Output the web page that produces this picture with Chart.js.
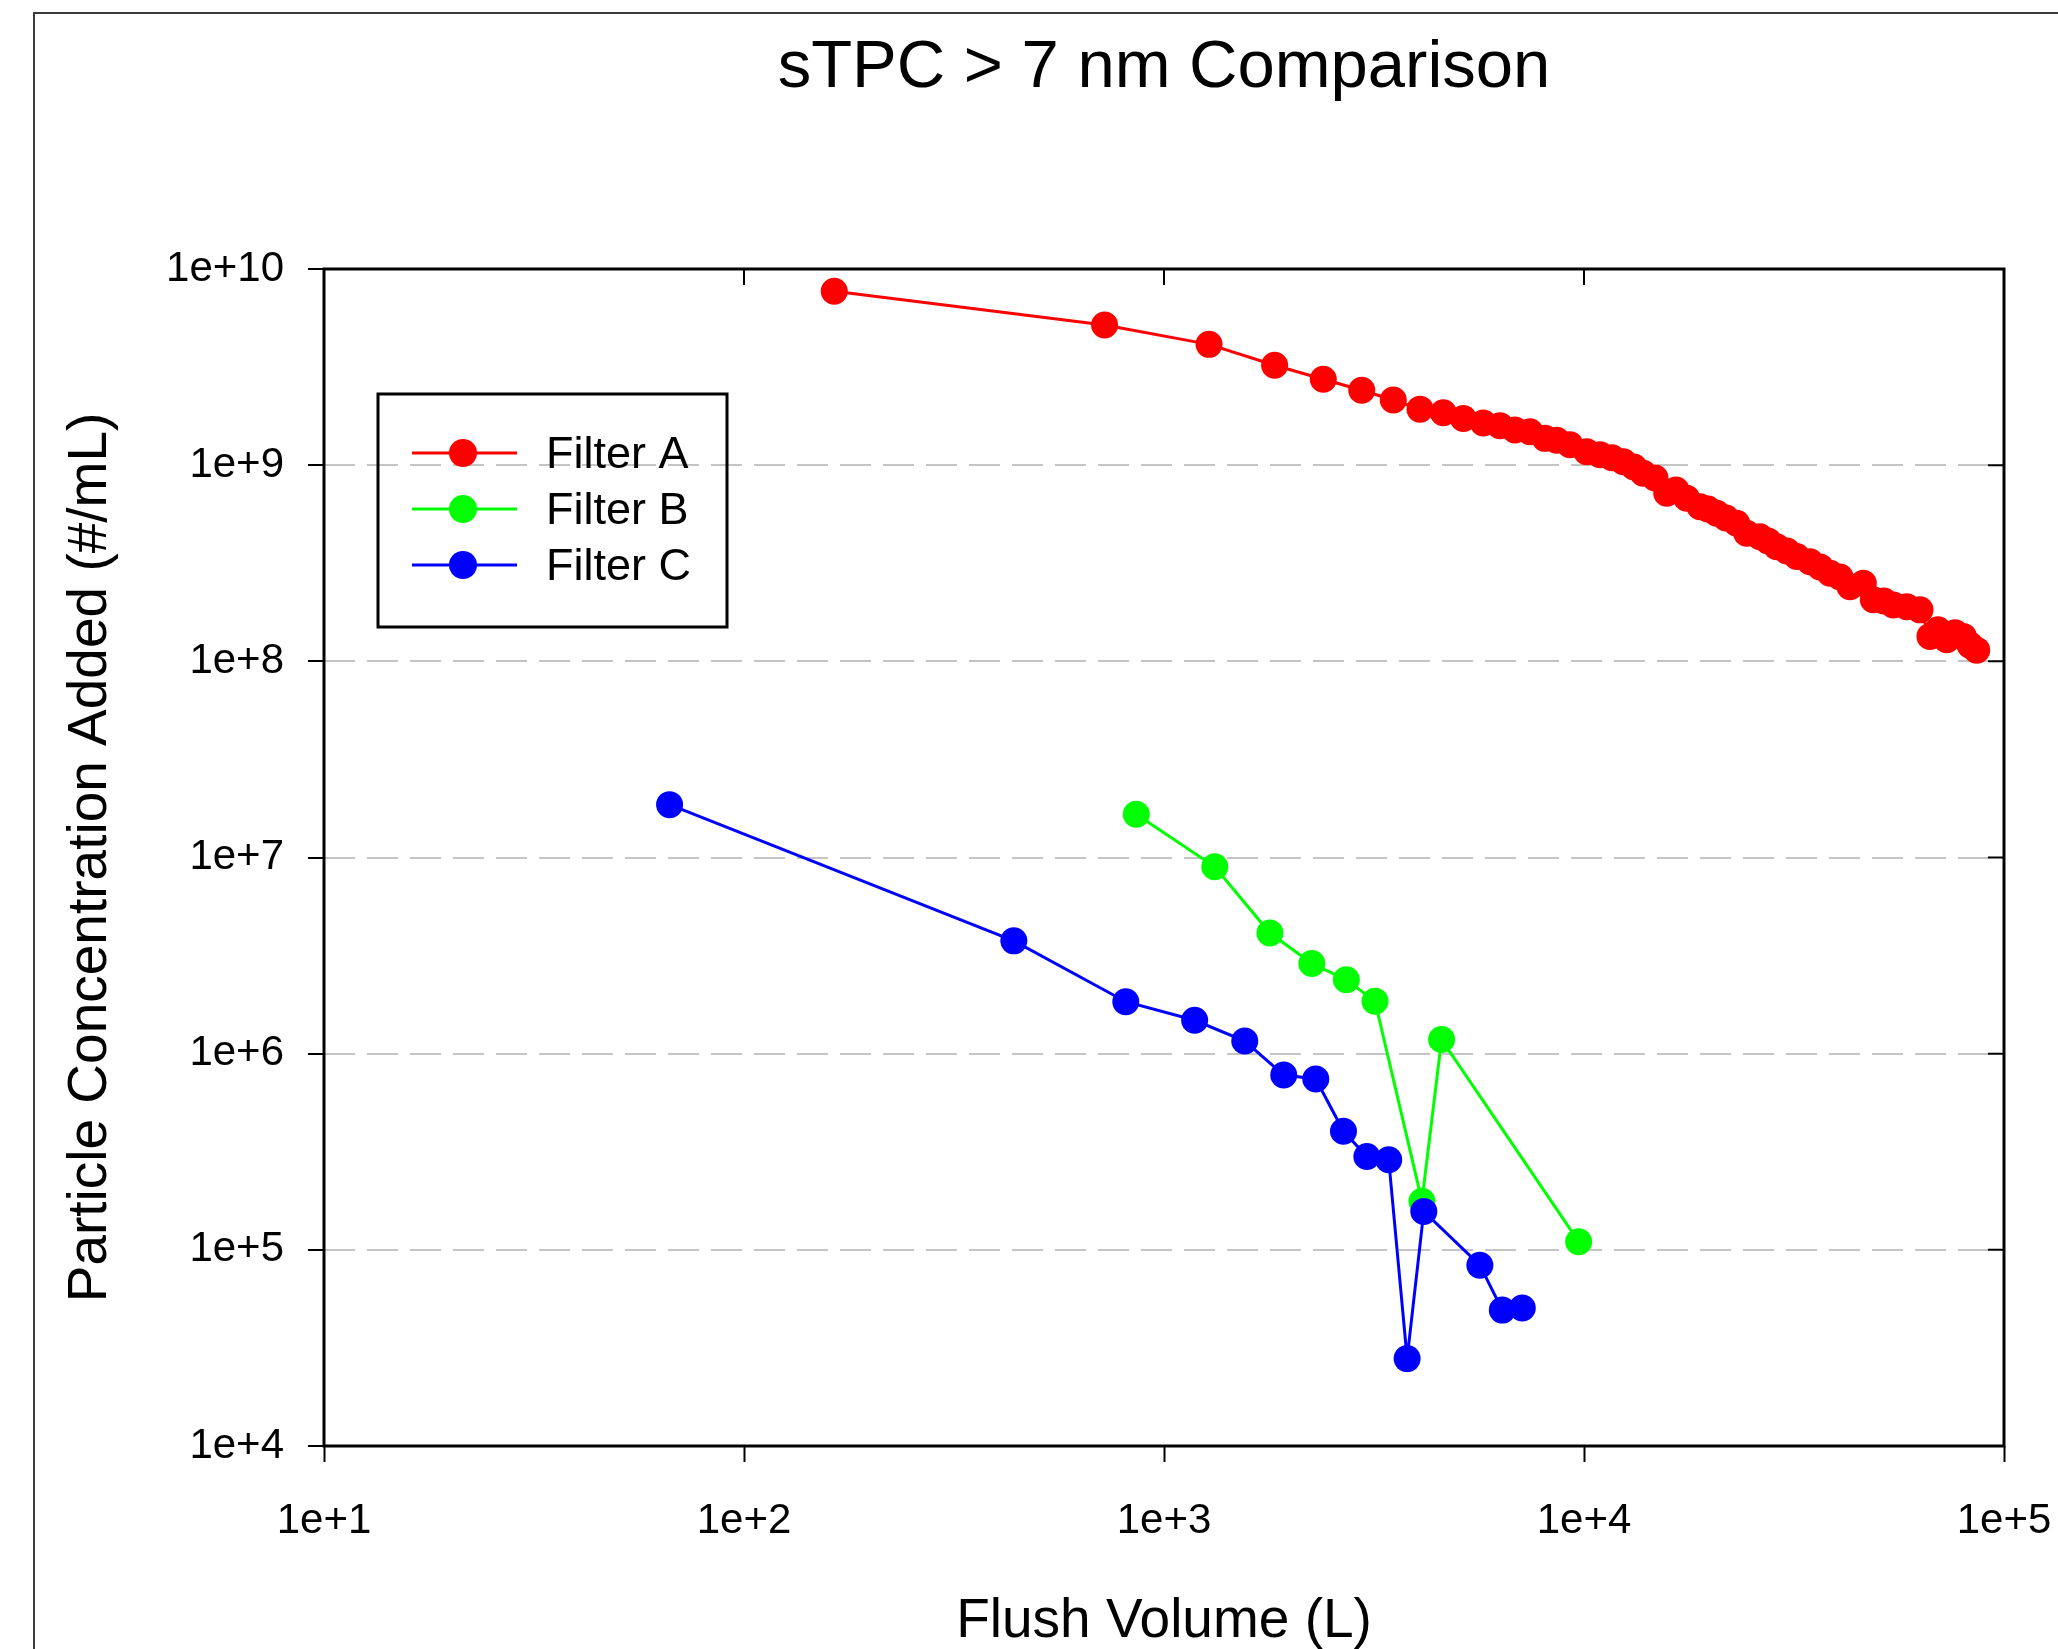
<!DOCTYPE html>
<html lang="en">
<head>
<meta charset="utf-8" />
<title>sTPC &gt; 7 nm Comparison</title>
<style>
    html, body { margin: 0; padding: 0; background: #ffffff; }
    #chartBox { width: 2058px; height: 1649px; }
</style>
</head>
<body>
<div id="chartBox"><canvas id="stpcChart" width="2058" height="1649"></canvas></div>
<script src="https://cdn.jsdelivr.net/npm/chart.js"></script>
<script>
const chartTitle = "sTPC > 7 nm Comparison";
const xAxisTitle = "Flush Volume (L)";
const yAxisTitle = "Particle Concentration Added (#/mL)";
const seriesNames = ["Filter A", "Filter B", "Filter C"];
const seriesColors = ["#ff0000", "#00ff00", "#0000ff"];

const xTicks = [1e1, 1e2, 1e3, 1e4, 1e5];
const xTickLabels = ["1e+1", "1e+2", "1e+3", "1e+4", "1e+5"];
const yTicks = [1e4, 1e5, 1e6, 1e7, 1e8, 1e9, 1e10];
const yTickLabels = ["1e+4", "1e+5", "1e+6", "1e+7", "1e+8", "1e+9", "1e+10"];

// Filter A
const filterAVolume = [164, 722, 1280, 1834, 2395, 2957, 3515, 4070, 4624, 5160,
    5757, 6310, 6850, 7437, 8074, 8610, 9261, 10150, 10920, 11660,
    12410, 13150, 13840, 14760, 15740, 16560, 17560, 18890, 19730, 20700,
    21780, 23100, 24400, 26240, 27420, 28760, 30430, 32100, 34530, 36480,
    38540, 40700, 42990, 46240, 48850, 51800, 54510, 58660, 63100, 66640,
    69640, 73040, 76440, 80020, 82990, 86100];
const filterAConc = [7.70e9, 5.18e9, 4.13e9, 3.23e9, 2.74e9, 2.41e9, 2.15e9, 1.93e9, 1.85e9, 1.73e9,
    1.64e9, 1.59e9, 1.51e9, 1.48e9, 1.37e9, 1.34e9, 1.27e9, 1.17e9, 1.13e9, 1.09e9,
    1.04e9, 9.79e8, 9.09e8, 8.60e8, 7.19e8, 7.47e8, 6.78e8, 6.14e8, 5.98e8, 5.69e8,
    5.38e8, 5.06e8, 4.50e8, 4.32e8, 4.11e8, 3.84e8, 3.65e8, 3.42e8, 3.22e8, 3.03e8,
    2.81e8, 2.69e8, 2.40e8, 2.50e8, 2.06e8, 2.03e8, 1.94e8, 1.90e8, 1.83e8, 1.34e8,
    1.45e8, 1.29e8, 1.40e8, 1.34e8, 1.21e8, 1.14e8];

// Filter B
const filterBVolume = [859, 1321, 1787, 2249, 2717, 3180, 4113, 4580, 9710];
const filterBConc = [1.66e7, 8.97e6, 4.12e6, 2.88e6, 2.38e6, 1.85e6, 1.77e5, 1.18e6, 1.10e5];

// Filter C
const filterCVolume = [66.5, 439, 811, 1183, 1557, 1928, 2298, 2675, 3041, 3428, 3792, 4155, 5650, 6390, 7130];
const filterCConc = [1.86e7, 3.76e6, 1.84e6, 1.48e6, 1.16e6, 7.78e5, 7.43e5, 4.02e5, 2.99e5, 2.88e5, 2.79e4, 1.57e5, 8.35e4, 4.93e4, 5.05e4];

const fontFamily = '"Liberation Sans", Arial, sans-serif';

function toPoints(xs, ys) {
    return xs.map((x, i) => ({ x: x, y: ys[i] }));
}

function makeSeries(idx, xs, ys, order) {
    return {
        label: seriesNames[idx],
        data: toPoints(xs, ys),
        showLine: true,
        borderColor: seriesColors[idx],
        backgroundColor: seriesColors[idx],
        borderWidth: 3,
        pointRadius: 13.5,
        pointBorderWidth: 0,
        pointBackgroundColor: seriesColors[idx],
        tension: 0,
        order: order,
    };
}

// frame, inner ticks, titles and the boxed legend
const chartFrame = {
    id: "chartFrame",
    beforeDraw(chart) {
        const ctx = chart.ctx;
        ctx.save();
        ctx.fillStyle = "#ffffff";
        ctx.fillRect(0, 0, chart.width, chart.height);
        ctx.strokeStyle = "#3c3c3c";
        ctx.lineWidth = 2;
        ctx.beginPath();
        ctx.moveTo(34, chart.height);
        ctx.lineTo(34, 13);
        ctx.lineTo(chart.width, 13);
        ctx.stroke();
        ctx.restore();
    },
    afterDraw(chart) {
        const { ctx, chartArea: a, scales } = chart;
        ctx.save();
        ctx.strokeStyle = "#000000";
        ctx.lineWidth = 3;
        ctx.strokeRect(a.left, a.top, a.right - a.left, a.bottom - a.top);

        ctx.lineWidth = 2;
        ctx.beginPath();
        xTicks.forEach((v) => {
            const px = scales.x.getPixelForValue(v);
            ctx.moveTo(px, a.top);
            ctx.lineTo(px, a.top + 16);
        });
        yTicks.forEach((v) => {
            const py = scales.y.getPixelForValue(v);
            ctx.moveTo(a.right - 16, py);
            ctx.lineTo(a.right, py);
        });
        ctx.stroke();

        ctx.fillStyle = "#000000";
        ctx.textAlign = "center";
        ctx.textBaseline = "alphabetic";
        const midX = (a.left + a.right) / 2;
        ctx.font = "67px " + fontFamily;
        ctx.fillText(chartTitle, midX, 87);
        ctx.font = "55px " + fontFamily;
        ctx.fillText(xAxisTitle, midX, 1637);
        ctx.save();
        ctx.translate(106, (a.top + a.bottom) / 2);
        ctx.rotate(-Math.PI / 2);
        ctx.fillText(yAxisTitle, 0, 0);
        ctx.restore();

        // legend box
        ctx.lineWidth = 3;
        ctx.strokeStyle = "#000000";
        ctx.strokeRect(378, 394, 349, 233);
        ctx.font = "45px " + fontFamily;
        ctx.textAlign = "left";
        ctx.textBaseline = "middle";
        seriesNames.forEach((name, i) => {
            const ly = 453 + i * 56;
            ctx.strokeStyle = seriesColors[i];
            ctx.lineWidth = 3;
            ctx.beginPath();
            ctx.moveTo(412, ly);
            ctx.lineTo(517, ly);
            ctx.stroke();
            ctx.fillStyle = seriesColors[i];
            ctx.beginPath();
            ctx.arc(463, ly, 14, 0, Math.PI * 2);
            ctx.fill();
            ctx.fillStyle = "#000000";
            ctx.fillText(name, 546, ly + 3);
        });
        ctx.restore();
    },
};

new Chart(document.getElementById("stpcChart"), {
    type: "scatter",
    data: {
        datasets: [
            makeSeries(0, filterAVolume, filterAConc, 2),
            makeSeries(1, filterBVolume, filterBConc, 1),
            makeSeries(2, filterCVolume, filterCConc, 0),
        ],
    },
    options: {
        responsive: false,
        animation: false,
        events: [],
        layout: { padding: { left: 0, top: 269, right: 54, bottom: 0 } },
        plugins: {
            legend: { display: false },
            title: { display: false },
            tooltip: { enabled: false },
        },
        scales: {
            x: {
                type: "logarithmic",
                min: 10,
                max: 1e5,
                afterBuildTicks: (scale) => {
                    scale.ticks = xTicks.map((v) => ({ value: v }));
                },
                afterFit: (scale) => {
                    scale.height = 203;
                    scale.paddingLeft = 0;
                    scale.paddingRight = 0;
                },
                ticks: {
                    callback: (value, index) => xTickLabels[index],
                    color: "#000000",
                    font: { family: fontFamily, size: 42 },
                    padding: 34,
                    maxRotation: 0,
                    autoSkip: false,
                },
                grid: {
                    drawOnChartArea: false,
                    drawTicks: true,
                    tickLength: 16,
                    tickWidth: 2,
                    tickColor: "#000000",
                },
                border: { display: false },
            },
            y: {
                type: "logarithmic",
                min: 1e4,
                max: 1e10,
                afterBuildTicks: (scale) => {
                    scale.ticks = yTicks.map((v) => ({ value: v }));
                },
                afterFit: (scale) => {
                    scale.width = 324;
                    scale.paddingTop = 0;
                    scale.paddingBottom = 0;
                },
                ticks: {
                    callback: (value, index) => yTickLabels[index],
                    color: "#000000",
                    font: { family: fontFamily, size: 42 },
                    padding: 24,
                    autoSkip: false,
                },
                grid: {
                    drawOnChartArea: true,
                    drawTicks: true,
                    tickLength: 16,
                    tickWidth: 2,
                    tickColor: "#000000",
                    lineWidth: 2,
                    color: (c) =>
                        c.index === 0 || c.index === yTicks.length - 1
                            ? "rgba(0,0,0,0)"
                            : "#c4c4c4",
                },
                border: { display: false, dash: [31, 12] },
            },
        },
    },
    plugins: [chartFrame],
});
</script>
</body>
</html>
